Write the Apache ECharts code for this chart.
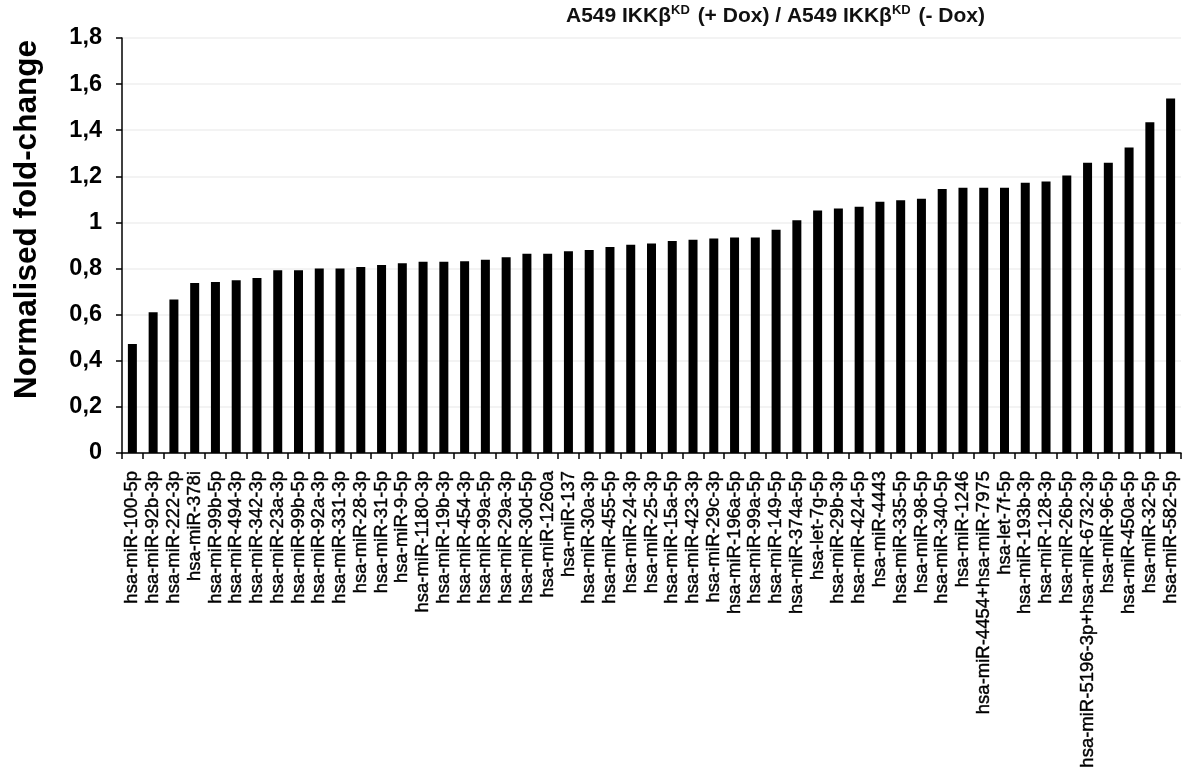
<!DOCTYPE html>
<html>
<head>
<meta charset="utf-8">
<style>
  html, body { margin: 0; padding: 0; background: #fff; }
  #chart { width: 1182px; height: 775px; }
</style>
<script src="https://cdn.jsdelivr.net/npm/echarts@6/dist/echarts.min.js"></script>
</head>
<body>
<div id="chart"></div>
<script>
// miRNA names, sorted by fold-change
const categories = [
  'hsa-miR-100-5p', 'hsa-miR-92b-3p', 'hsa-miR-222-3p', 'hsa-miR-378i', 'hsa-miR-99b-5p',
  'hsa-miR-494-3p', 'hsa-miR-342-3p', 'hsa-miR-23a-3p', 'hsa-miR-99b-5p', 'hsa-miR-92a-3p',
  'hsa-miR-331-3p', 'hsa-miR-28-3p', 'hsa-miR-31-5p', 'hsa-miR-9-5p', 'hsa-miR-1180-3p',
  'hsa-miR-19b-3p', 'hsa-miR-454-3p', 'hsa-miR-99a-5p', 'hsa-miR-29a-3p', 'hsa-miR-30d-5p',
  'hsa-miR-1260a', 'hsa-miR-137', 'hsa-miR-30a-3p', 'hsa-miR-455-5p', 'hsa-miR-24-3p',
  'hsa-miR-25-3p', 'hsa-miR-15a-5p', 'hsa-miR-423-3p', 'hsa-miR-29c-3p', 'hsa-miR-196a-5p',
  'hsa-miR-99a-5p', 'hsa-miR-149-5p', 'hsa-miR-374a-5p', 'hsa-let-7g-5p', 'hsa-miR-29b-3p',
  'hsa-miR-424-5p', 'hsa-miR-4443', 'hsa-miR-335-5p', 'hsa-miR-98-5p', 'hsa-miR-340-5p',
  'hsa-miR-1246', 'hsa-miR-4454+hsa-miR-7975', 'hsa-let-7f-5p', 'hsa-miR-193b-3p', 'hsa-miR-128-3p',
  'hsa-miR-26b-5p', 'hsa-miR-5196-3p+hsa-miR-6732-3p', 'hsa-miR-96-5p', 'hsa-miR-450a-5p', 'hsa-miR-32-5p',
  'hsa-miR-582-5p'
];

// Normalised fold-change (+ Dox / - Dox)
const foldChange = [
  0.473, 0.610, 0.666, 0.737, 0.742,
  0.749, 0.759, 0.793, 0.793, 0.800,
  0.800, 0.807, 0.815, 0.823, 0.830,
  0.830, 0.832, 0.838, 0.849, 0.864,
  0.864, 0.875, 0.881, 0.893, 0.903,
  0.909, 0.920, 0.925, 0.930, 0.935,
  0.935, 0.968, 1.009, 1.052, 1.060,
  1.068, 1.090, 1.096, 1.103, 1.145,
  1.151, 1.151, 1.151, 1.172, 1.178,
  1.204, 1.259, 1.259, 1.325, 1.435,
  1.538
];

// y-axis tick values and their printed (decimal comma) labels
const yTicks = [0, 0.2, 0.4, 0.6, 0.8, 1, 1.2, 1.4, 1.6, 1.8];
const yTickLabels = ['0', '0,2', '0,4', '0,6', '0,8', '1', '1,2', '1,4', '1,6', '1,8'];

const FONT = "'Liberation Sans', Arial, Helvetica, sans-serif";

const chart = echarts.init(document.getElementById('chart'), null, { renderer: 'canvas' });

chart.setOption({
  backgroundColor: '#ffffff',
  animation: false,
  title: {
    left: 561,
    top: -4,
    text: '{a|A549 IKKβ}{s|KD}{a| (+ Dox) / A549 IKKβ}{s|KD}{a| (- Dox)}',
    textStyle: {
      rich: {
        a: { fontFamily: FONT, fontWeight: 'bold', fontSize: 21, color: '#111', lineHeight: 26, verticalAlign: 'bottom' },
        s: { fontFamily: FONT, fontWeight: 'bold', fontSize: 13, color: '#111', lineHeight: 26, verticalAlign: 'top', padding: [3, 2, 0, 0] }
      }
    }
  },
  grid: {
    left: 122,
    right: 1,
    top: 38,
    bottom: 322,
    containLabel: false,
    outerBoundsMode: 'none'
  },
  xAxis: {
    type: 'category',
    data: categories,
    boundaryGap: true,
    axisLine: { show: true, lineStyle: { color: '#000', width: 1.5 } },
    axisTick: { show: true, interval: 0, length: 6, inside: false, lineStyle: { color: '#000', width: 1.5 } },
    axisLabel: {
      interval: 0,
      rotate: 90,
      margin: 18,
      color: '#000',
      fontFamily: FONT,
      fontSize: 18.5,
      textBorderColor: '#000',
      textBorderWidth: 0.4
    },
    splitLine: { show: false }
  },
  yAxis: {
    type: 'value',
    min: 0,
    max: 1.8,
    interval: 0.2,
    name: 'Normalised fold-change',
    nameLocation: 'middle',
    nameGap: 79,
    nameTextStyle: {
      fontFamily: FONT,
      fontWeight: 'bold',
      fontSize: 31.5,
      color: '#000',
      padding: [0, 0, 0, 52]
    },
    axisLine: { show: true, lineStyle: { color: '#000', width: 1.5 } },
    axisTick: { show: true, length: 6, inside: false, lineStyle: { color: '#000', width: 1.5 } },
    axisLabel: {
      margin: 20,
      color: '#000',
      fontFamily: FONT,
      fontWeight: 'bold',
      fontSize: 23.5,
      formatter: function (v) {
        const i = yTicks.findIndex(t => Math.abs(t - v) < 1e-6);
        return i >= 0 ? yTickLabels[i] : '';
      }
    },
    splitLine: { show: true, lineStyle: { color: '#efefef', width: 1.5 } }
  },
  series: [{
    type: 'bar',
    data: foldChange,
    barWidth: 9,
    itemStyle: { color: '#000' },
    silent: true
  }]
});
</script>
</body>
</html>
